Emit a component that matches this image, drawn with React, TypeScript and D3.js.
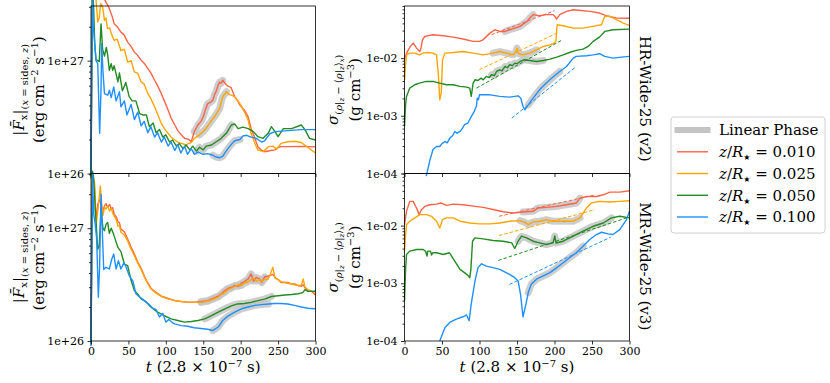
import React, { useEffect, useRef } from 'react';
import * as d3 from 'd3';

type Pt = [number, number];

// time axis in units of 2.8e-7 s
const xTicks = [0, 50, 100, 150, 200, 250, 300];

const seriesNames = ['0.010', '0.025', '0.050', '0.100'];
const seriesColors = ['#ff6347', '#ffa500', '#228b22', '#1e90ff'];
const rowLabels = ['HR-Wide-25 (v2)', 'MR-Wide-25 (v3)'];

// |F_x| in units of 1e26 erg cm^-2 s^-1
const fluxTicks = [1, 10];
const fluxTickLabels = ['1e+26', '1e+27'];
const fluxMinor = [2, 3, 4, 5, 6, 7, 8, 9, 20, 30];

// sigma in units of 1e-3 g cm^-3
const sigTicks = [0.1, 1, 10];
const sigTickLabels = ['1e-04', '1e-03', '1e-02'];
const sigMinor = [0.2, 0.3, 0.4, 0.5, 0.6, 0.7, 0.8, 0.9, 2, 3, 4, 5, 6, 7, 8, 9, 20, 30, 40, 50, 60, 70, 80];

// ---- HR-Wide-25 (v2), flux ----
const fluxHR010: Pt[] = [[0, 0.95], [1.5, 50], [8, 45], [15, 38], [20, 33], [24, 29.5], [28, 25], [31, 21.2], [35, 20], [40, 17.9], [44, 17], [49, 14.6], [53, 13.5], [58, 11.9], [62, 11.2], [67, 10.1], [71, 9.5], [76, 8.5], [80, 7.8], [85, 6.7], [89, 6.0], [94, 5.1], [98, 4.4], [103, 3.65], [107, 3.1], [112, 2.69], [116, 2.4], [121, 2.19], [125, 2.05], [130, 2.01], [134, 1.91], [138, 2.35], [141, 2.55], [143, 2.69], [147, 2.9], [150, 3.18], [153, 3.7], [156, 4.17], [160, 4.3], [163, 4.47], [165, 5.0], [167, 5.3], [170, 6.1], [172, 6.46], [174, 6.3], [176, 6.7], [179, 6.3], [183, 5.94], [187, 5.8], [190, 5.2], [192, 4.78], [196, 4.4], [199, 4.04], [205, 3.64], [210, 3.18], [214, 2.51], [219, 2.05], [223, 1.73], [228, 1.6], [232, 1.56], [240, 1.6], [246, 1.62], [250, 1.7], [254, 1.73], [263, 1.73], [281, 1.74], [300, 1.72]];
const fluxHR025: Pt[] = [[0, 0.95], [1.5, 45], [6, 40], [9, 22], [11, 24], [13, 32], [15.6, 29.8], [18, 22.7], [20, 24], [22, 19.2], [25, 19.5], [27, 17.5], [31, 15.1], [35, 15.5], [40, 12.3], [44.6, 12.6], [49, 9.7], [53.6, 10.0], [58, 7.94], [62.5, 7.7], [67, 6.48], [71, 6.2], [76, 5.1], [80, 4.6], [85, 3.9], [89, 3.35], [94, 2.78], [98, 2.5], [103, 2.27], [107, 2.1], [112, 1.98], [116, 1.9], [121, 1.85], [124, 1.82], [127, 1.79], [130, 1.84], [134, 1.88], [138, 2.05], [145, 2.2], [152, 2.43], [158.5, 2.78], [162, 3.0], [165, 3.18], [169, 3.5], [172, 3.77], [174, 4.3], [176, 4.78], [181, 5.3], [185, 5.0], [188, 4.95], [192, 4.78], [199, 4.17], [205, 3.52], [210, 2.97], [214, 2.27], [219, 1.85], [223, 1.62], [230, 1.56], [237, 1.73], [243, 1.75], [248, 1.65], [254, 1.85], [263, 1.91], [272, 1.93], [281, 1.88], [290, 1.7], [300, 1.52]];
const fluxHR050: Pt[] = [[0, 0.93], [2, 45], [3.5, 30], [5, 14], [6.7, 10.2], [9, 10], [11, 9.8], [13.4, 21.2], [15.6, 12.5], [18, 11], [20.5, 13.1], [22.3, 11.2], [24.5, 8.2], [27, 9.4], [29, 8.2], [31, 9.0], [36, 6.48], [38, 7.8], [42, 5.4], [46.5, 6.4], [51, 4.8], [55, 4.4], [60, 4.4], [65, 3.4], [69, 3.3], [74, 3.3], [78, 2.6], [83, 2.8], [87, 2.3], [91.5, 2.45], [96, 2.1], [100, 2.2], [105, 1.9], [109, 1.98], [114, 1.76], [118, 1.84], [123, 1.66], [127, 1.79], [132, 1.62], [136, 1.75], [141, 1.58], [145, 1.71], [150, 1.62], [154, 1.75], [161, 1.79], [168, 1.92], [174, 2.05], [181, 2.28], [187.5, 2.69], [192, 2.75], [196.5, 2.5], [203, 2.58], [210, 2.5], [217, 2.35], [223, 2.12], [230, 2.05], [237, 2.28], [241, 2.6], [246, 2.35], [250, 2.12], [257, 2.5], [268, 2.5], [281, 2.69], [286, 2.45], [292, 2.05], [300, 1.98]];
const fluxHR100: Pt[] = [[0, 0.9], [1.8, 45], [3, 20], [4.5, 15.6], [6.7, 10], [9, 9.4], [10.3, 4.6], [11.6, 2.27], [13.4, 5.6], [14.3, 14.1], [16, 8.0], [18, 5.1], [22.3, 4.94], [24.6, 5.47], [27, 4.7], [30.4, 5.86], [33.5, 4.4], [38, 5.3], [40, 3.9], [44.6, 4.4], [48, 3.3], [53.6, 4.1], [58, 3.0], [62.5, 3.5], [67, 2.65], [71, 2.9], [76, 2.3], [80, 2.6], [85, 2.1], [89, 2.3], [94, 1.9], [98, 2.1], [103, 1.75], [107, 1.9], [112, 1.6], [116, 1.8], [120, 1.52], [125, 1.74], [129, 1.48], [134, 1.66], [138, 1.48], [143, 1.55], [150, 1.48], [156, 1.5], [163, 1.45], [167, 1.4], [172, 1.38], [176, 1.42], [179, 1.52], [183, 1.66], [188, 1.83], [192, 1.95], [199, 2.0], [203, 2.15], [208, 2.18], [214, 2.1], [221, 2.05], [228, 1.9], [232, 1.95], [239, 2.25], [246, 2.35], [263, 2.4], [281, 2.45], [300, 2.45]];
const linHRflux: Pt[] = [[137, 178], [145, 181], [140, 190], [163, 202]];

// ---- MR-Wide-25 (v3), flux ----
const fluxMR010: Pt[] = [[0, 0.95], [1.5, 25], [4.5, 26], [6.7, 11.6], [9, 16.3], [12, 18], [15, 14], [18, 15.7], [20, 16.5], [22.3, 15.3], [25, 16.2], [27, 14.8], [29, 15.2], [31, 13.3], [34, 12.5], [36, 11.4], [38, 11.2], [40, 9.8], [44.6, 9.3], [49, 8.0], [53.6, 6.8], [58, 5.9], [62.5, 5.0], [67, 4.4], [71.4, 3.75], [76, 3.25], [80, 2.95], [85, 2.75], [94, 2.5], [103, 2.38], [112, 2.28], [120.5, 2.24], [129, 2.21], [138, 2.21], [147, 2.23], [156, 2.28], [165, 2.42], [170, 2.5], [174, 2.6], [179, 2.8], [183, 2.92], [188, 3.0], [192, 3.1], [197, 3.05], [201, 3.25], [206, 3.4], [210, 3.55], [214, 3.93], [217, 3.4], [221, 3.65], [225, 3.55], [228, 3.3], [232, 3.7], [236, 3.75], [239, 3.8], [243, 3.9], [247, 3.6], [250, 3.5], [254, 3.3], [259, 3.3], [263, 3.31], [268, 3.2], [272, 3.2], [277, 3.1], [281, 3.05], [283.5, 3.15], [286, 2.95], [290, 2.8], [295, 2.75], [300, 2.55]];
const fluxMR025: Pt[] = [[0, 0.95], [1.5, 30], [4.5, 26], [6.7, 10.5], [9, 14], [12.5, 23.6], [14, 17], [16, 13], [18, 15.3], [20, 14.8], [22.3, 15.6], [25, 14.2], [27, 15], [29, 13.6], [31, 12.8], [34, 11.8], [36, 10.4], [38, 10.6], [40, 9.2], [44.6, 8.7], [49, 7.7], [53.6, 6.5], [58, 5.7], [62.5, 4.9], [67, 4.3], [71.4, 3.67], [76, 3.2], [80, 2.9], [85, 2.71], [94, 2.48], [103, 2.36], [112, 2.28], [120.5, 2.24], [129, 2.21], [138, 2.2], [147, 2.2], [156, 2.25], [165, 2.38], [170, 2.45], [174, 2.58], [179, 2.7], [183, 2.85], [188, 2.95], [192, 3.05], [197, 3.15], [201, 3.1], [206, 3.3], [210, 3.35], [214, 3.5], [217, 3.6], [221, 3.4], [225, 3.5], [228, 3.35], [232, 3.55], [236, 3.5], [239, 3.8], [243, 4.5], [246, 3.6], [250, 3.5], [254, 3.35], [259, 3.3], [263, 3.25], [268, 3.2], [272, 3.15], [277, 3.1], [281, 3.1], [283.5, 3.55], [286, 3.0], [290, 2.85], [295, 2.75], [300, 2.72]];
const fluxMR050: Pt[] = [[0, 0.93], [2, 32], [3.5, 28], [6, 14], [9, 6.5], [11, 7.0], [13.4, 14.5], [16, 10], [18, 9.5], [20, 10.8], [22.3, 11.2], [24.5, 9.0], [27, 10.0], [29, 9.3], [31, 8.5], [36, 6.75], [40, 6.2], [44.6, 4.81], [49, 4.65], [53.6, 3.43], [58, 2.8], [62.5, 2.6], [67, 2.36], [73.7, 2.22], [80, 2.0], [89, 1.8], [98, 1.68], [107, 1.57], [116, 1.52], [125, 1.47], [134, 1.49], [143, 1.52], [152, 1.57], [161, 1.68], [170, 1.8], [179, 1.93], [187.5, 2.05], [196, 2.13], [205, 2.15], [214, 2.2], [223, 2.28], [232, 2.35], [241, 2.48], [250, 2.52], [259, 2.56], [268, 2.58], [277, 2.62], [283, 2.68], [286, 2.85], [290, 2.75], [300, 2.76]];
const fluxMR100: Pt[] = [[0, 0.9], [2, 30], [3.6, 13.3], [5.5, 11], [7.6, 8.0], [9.8, 2.44], [11.5, 4.5], [13.4, 20], [15, 10], [17, 4.3], [20, 4.5], [24.5, 4.35], [27.7, 5.3], [30.4, 5.9], [33.5, 4.35], [36.6, 5.15], [40, 4.35], [44, 4.95], [47, 4.5], [51, 3.8], [56, 3.4], [60, 2.62], [65, 2.45], [69, 2.35], [74, 2.2], [78, 2.1], [82.6, 1.95], [87, 1.9], [91.5, 1.63], [96, 1.75], [100, 1.47], [104, 1.55], [109, 1.45], [112, 1.42], [120.5, 1.37], [129, 1.35], [138, 1.31], [147, 1.29], [156, 1.27], [163, 1.24], [170, 1.33], [176, 1.52], [183, 1.66], [192, 1.8], [201, 1.93], [210, 2.0], [219, 2.07], [228, 2.1], [237, 2.13], [245, 2.15], [254, 2.15], [263, 2.13], [272, 2.07], [281, 2.0], [290, 1.95], [300, 1.93]];
const linMRflux: Pt[] = [[147, 235], [147, 235], [147, 245], [163, 240]];

// ---- HR-Wide-25 (v2), sigma ----
const sigHR010: Pt[] = [[0, 9.5], [2, 11.5], [5, 13.9], [8, 16], [11.6, 18.2], [14, 16.5], [16, 14.9], [20.4, 13.0], [22, 15], [24, 20.8], [27, 23.7], [32, 24.5], [38, 25.4], [51.5, 24.4], [65, 23.1], [78, 21.4], [91.5, 19.5], [100, 19.5], [104, 20.5], [107, 22.2], [114, 27.1], [120.5, 31], [127, 29], [134, 29], [140, 31], [147, 33.1], [154, 35.4], [160, 40.5], [164, 44], [167, 49.4], [171.5, 56.6], [180, 54.3], [189, 56.6], [198, 56.6], [201, 52], [202.7, 47.5], [205, 52], [207, 56.6], [216, 64.5], [225, 68.8], [236, 67], [247, 64.5], [260, 60.4], [269, 54.3], [275, 52], [283, 49.4], [300, 49]];
const sigHR025: Pt[] = [[0, 4.2], [1.5, 8], [2.7, 11.4], [7, 12.2], [13.8, 12.2], [20, 11.4], [25, 12.2], [31.5, 12.5], [38, 12.2], [42.7, 11.4], [45, 5.5], [47, 1.89], [49, 2.47], [50.7, 9.36], [54, 12.2], [65, 12.5], [78, 13.0], [91.5, 12.2], [105, 11.4], [118, 12.2], [127, 13.0], [136, 12.2], [145, 11.4], [148, 12.5], [150, 14.9], [152, 12.0], [158, 11.4], [167, 12.2], [176, 13.9], [185, 15.9], [194, 17.0], [200, 18.2], [202, 20], [203.5, 37.9], [211, 36.4], [225, 33.1], [238, 33.1], [251, 35.4], [262.7, 37.9], [267, 52.9], [274, 52.9], [283, 46.2], [292, 40.5], [300, 36.4]];
const sigHR050: Pt[] = [[0, 0.65], [1.5, 1.6], [2.7, 2.17], [7, 3.02], [13.8, 3.45], [20, 3.69], [29, 3.94], [38, 3.94], [47, 3.69], [56, 3.45], [65, 3.45], [74, 3.23], [83, 3.14], [87, 3.02], [89, 2.17], [91.5, 3.69], [94, 4.21], [98, 4.1], [102, 4.5], [105, 4.2], [109, 4.81], [113, 4.6], [116, 5.14], [120, 5.0], [122.7, 5.87], [127, 6.27], [130, 6.0], [134, 7.17], [137, 6.8], [140.4, 7.66], [144, 7.4], [147, 8.19], [150, 8.0], [154, 8.75], [160, 9.36], [167, 9.1], [176, 8.75], [185, 9.1], [194, 9.6], [203, 10.4], [211.5, 11.4], [220, 12.5], [229, 13.6], [238, 14.3], [245, 15.9], [251.5, 19.5], [260, 23.1], [267, 29], [278, 31], [300, 31.8]];
const sigHR100: Pt[] = [[29, 0.09], [34, 0.172], [38, 0.26], [42.7, 0.294], [47, 0.294], [50, 0.33], [54, 0.359], [57, 0.34], [60.4, 0.41], [64, 0.45], [67, 0.535], [70, 0.5], [74, 0.535], [77, 0.6], [80, 0.7], [84.5, 0.75], [89, 0.97], [93, 1.19], [96, 1.5], [97, 2.02], [98.5, 1.9], [100, 2.31], [105, 2.31], [114, 2.31], [127, 2.17], [140, 2.11], [151.5, 2.22], [155, 2.02], [158, 1.45], [160.5, 1.27], [165, 1.55], [171.5, 2.02], [180, 2.82], [189, 3.69], [198, 4.69], [207, 5.87], [216, 7.17], [225, 10], [229, 10.7], [242.7, 10.98], [251.5, 11.4], [260, 11.9], [267, 10.7], [278, 10], [289, 10.4], [300, 10.7]];
const linHRsig: Pt[] = [[131, 176], [118, 181], [116, 185], [163, 207]];
// fitted growth: [t0, t1] and [v0, v1]
const fitHRt: Pt[] = [[116, 200], [100, 203.5], [96, 209], [143, 229]];
const fitHRv: Pt[] = [[25.4, 66.2], [6.31, 27.2], [3.02, 20.2], [0.912, 7.16]];

// ---- MR-Wide-25 (v3), sigma ----
const sigMR010: Pt[] = [[0, 10.4], [1.5, 14], [2.7, 17.7], [7, 26.3], [11.6, 26.3], [16, 20.2], [19.5, 15.5], [22.7, 18.9], [27, 21.5], [33.8, 23.0], [42.7, 23.6], [49, 24.6], [56, 22.4], [65, 23.6], [78, 23.0], [91.5, 21.8], [105, 20.7], [118, 19.0], [131.5, 17.4], [145, 16.5], [158, 17.2], [171.5, 17.7], [178, 20.2], [189, 20.7], [203, 21.5], [216, 23.0], [229, 24.6], [234, 30], [242.7, 32.0], [256, 32.0], [265, 34.2], [274, 38], [287, 38], [300, 40.1]];
const sigMR025: Pt[] = [[0, 3.6], [1.5, 7], [2.7, 10.4], [7, 11.9], [13.8, 13.6], [20.4, 15.5], [29, 15.5], [36, 14.5], [42.7, 11.9], [47, 9.1], [50.7, 12.7], [56, 13.6], [65, 13.6], [74, 11.9], [87, 11.1], [100, 10.7], [114, 10.7], [127, 11.1], [140.4, 11.9], [154, 12.2], [160, 11.5], [165, 10.4], [171.5, 11.6], [180, 11.9], [189, 12.7], [198, 11.9], [205, 11.9], [211.5, 11.9], [225, 11.9], [234, 13.6], [242.7, 20.2], [249, 24.6], [260, 26.3], [274, 25.6], [287, 26.3], [300, 27.0]];
const sigMR050: Pt[] = [[0, 0.5], [1.5, 1.8], [2.7, 3.16], [7, 3.61], [16, 3.86], [25, 3.86], [28, 3.6], [30, 2.96], [31, 3.61], [34.7, 3.61], [36, 3.1], [38, 3.4], [42.7, 3.38], [51.6, 3.16], [60, 3.38], [67, 2.42], [74, 1.74], [80, 1.53], [85, 1.35], [87, 1.25], [88.5, 1.74], [90.7, 5.36], [93.8, 6.13], [105, 5.89], [118, 5.51], [131.5, 5.36], [143, 5.02], [147, 4.01], [151.5, 5.36], [156, 6.55], [162.7, 6.13], [171.5, 5.36], [180, 5.02], [189, 4.7], [198, 5.02], [200.4, 6.6], [202, 5.0], [211.5, 5.36], [225, 6.55], [238, 8.0], [251.5, 9.74], [265, 11.1], [276, 13.6], [287, 14.5], [300, 13.6]];
const sigMR100: Pt[] = [[47, 0.1], [54, 0.172], [60.4, 0.21], [69, 0.24], [78, 0.263], [82.7, 0.283], [86.2, 0.225], [89, 0.44], [94, 1.1], [98, 1.87], [102.7, 2.18], [109, 1.99], [118, 1.87], [127, 1.74], [140, 1.43], [147, 1.25], [151.5, 1.1], [154.7, 0.645], [158, 0.263], [162, 0.44], [165, 0.69], [169, 0.96], [176, 1.18], [185, 1.34], [194, 1.53], [203, 1.87], [211.5, 2.27], [220, 2.77], [229, 3.38], [238, 4.4], [247, 5.73], [256, 7.0], [262.7, 7.67], [271.6, 7.18], [278, 7.0], [287, 8.53], [296, 12.7], [300, 17.7]];
const linMRsig: Pt[] = [[147, 234], [147, 234], [151, 278], [163, 243]];
const fitMRt: Pt[] = [[126, 255], [126, 254], [125, 296], [140, 275]];
const fitMRv: Pt[] = [[14.5, 34.2], [6.73, 18.9], [2.49, 13.6], [0.955, 6.31]];

const colX = [[91, 315.5], [404.5, 629.5]];
const rowY = [[6, 173.5], [173.5, 341]];

const panels = [
  { col: 0, row: 0, domain: [1, 30.5], series: [fluxHR010, fluxHR025, fluxHR050, fluxHR100], lin: linHRflux, fitT: null, fitV: null },
  { col: 1, row: 0, domain: [0.1, 80], series: [sigHR010, sigHR025, sigHR050, sigHR100], lin: linHRsig, fitT: fitHRt, fitV: fitHRv },
  { col: 0, row: 1, domain: [1, 30.5], series: [fluxMR010, fluxMR025, fluxMR050, fluxMR100], lin: linMRflux, fitT: null, fitV: null },
  { col: 1, row: 1, domain: [0.1, 80], series: [sigMR010, sigMR025, sigMR050, sigMR100], lin: linMRsig, fitT: fitMRt, fitV: fitMRv },
];

const FONT = 'DejaVu Serif';

function Chart() {
  const ref = useRef<SVGGElement>(null);

  useEffect(() => {
    const root = d3.select(ref.current);
    root.selectAll('*').remove();

    panels.forEach(p => {
      const [x0, x1] = colX[p.col];
      const [y0, y1] = rowY[p.row];
      const x = d3.scaleLinear().domain([0, 300]).range([x0, x1]);
      const y = d3.scaleLog().domain(p.domain).range([y1, y0]);
      const g = root.append('g');
      const line = d3.line<Pt>().x(d => x(d[0])).y(d => y(d[1]));

      // linear phase highlight
      p.series.forEach((s, i) => {
        const [a, b] = p.lin[i];
        g.append('path')
          .attr('d', line(s.filter(d => d[0] >= a && d[0] <= b)))
          .attr('fill', 'none')
          .attr('stroke', '#c4c4c4')
          .attr('stroke-opacity', 0.85)
          .attr('stroke-width', 7)
          .attr('stroke-linejoin', 'round')
          .attr('stroke-linecap', 'round');
      });

      p.series.forEach((s, i) => {
        g.append('path')
          .attr('d', line(s))
          .attr('fill', 'none')
          .attr('stroke', seriesColors[i])
          .attr('stroke-width', 1.4)
          .attr('stroke-linejoin', 'round');
      });

      if (p.fitT && p.fitV) {
        p.fitT.forEach((tt, i) => {
          const vv = p.fitV![i];
          g.append('path')
            .attr('d', line([[tt[0], vv[0]], [tt[1], vv[1]]]))
            .attr('fill', 'none')
            .attr('stroke', seriesColors[i])
            .attr('stroke-width', 1)
            .attr('stroke-dasharray', '3.5,2');
        });
      }

      // spines
      g.append('rect')
        .attr('x', x0).attr('y', y0)
        .attr('width', x1 - x0).attr('height', y1 - y0)
        .attr('fill', 'none').attr('stroke', '#000').attr('stroke-width', 0.8);

      const isFlux = p.col === 0;
      const yT = isFlux ? fluxTicks : sigTicks;
      const yL = isFlux ? fluxTickLabels : sigTickLabels;
      const yM = isFlux ? fluxMinor : sigMinor;

      g.append('g').attr('transform', `translate(${x0},0)`)
        .call(d3.axisLeft(y).tickValues(yT).tickFormat((d, i) => yL[i]).tickSize(3.5).tickPadding(3.5).tickSizeOuter(0));
      g.append('g').attr('transform', `translate(${x0},0)`)
        .call(d3.axisLeft(y).tickValues(yM).tickFormat(() => '').tickSize(2).tickSizeOuter(0));

      g.append('g').attr('transform', `translate(0,${y1})`)
        .call(d3.axisBottom(x).tickValues(xTicks).tickSize(3.5).tickPadding(3).tickSizeOuter(0)
          .tickFormat(p.row === 1 ? (d => String(d)) : () => ''));

      g.selectAll('.domain').remove();
      g.selectAll('.tick line').attr('stroke', '#000').attr('stroke-width', 0.8);
      g.selectAll('.tick text').attr('fill', '#000').attr('font-family', FONT).attr('font-size', 11);
    });
  }, []);

  return <g ref={ref}></g>;
}

const sub = 10;
const sub2 = 7;

export default function App() {
  const cy = rowY.map(r => (r[0] + r[1]) / 2);
  const legendY = [130, 151.8, 173.5, 195.3, 217];
  return (
    <svg width={830} height={383} style={{ position: 'absolute', left: 0, top: 0, background: '#fff' }} fontFamily={FONT}>
      <rect x={0} y={0} width={830} height={383} fill="#fff" />
      <Chart />

      {/* y labels, left column */}
      {cy.map((c, k) => (
        <g key={'fl' + k}>
          <text transform={`translate(24,${c}) rotate(-90)`} textAnchor="middle" fontSize={15} fill="#000">
            |<tspan fontStyle="italic">{'F\u0304'}</tspan><tspan fontSize={sub} dy={3}>x</tspan><tspan dy={-3}>|</tspan><tspan fontSize={sub} dy={3.5}>(</tspan><tspan fontSize={sub} fontStyle="italic">x</tspan><tspan fontSize={sub}>{' = sides, '}</tspan><tspan fontSize={sub} fontStyle="italic">z</tspan><tspan fontSize={sub}>)</tspan>
          </text>
          <text transform={`translate(44,${c}) rotate(-90)`} textAnchor="middle" fontSize={15} fill="#000">
            {'(erg cm'}<tspan fontSize={sub} dy={-6}>{'\u22122'}</tspan><tspan dy={6}>{' s'}</tspan><tspan fontSize={sub} dy={-6}>{'\u22121'}</tspan><tspan dy={6}>)</tspan>
          </text>
        </g>
      ))}

      {/* y labels, right column */}
      {cy.map((c, k) => (
        <g key={'sl' + k}>
          <text transform={`translate(338,${c}) rotate(-90)`} textAnchor="middle" fontSize={15} fill="#000">
            <tspan fontStyle="italic">{'\u03c3'}</tspan><tspan fontSize={sub} dy={3.5}>(</tspan><tspan fontSize={sub} fontStyle="italic">{'\u03c1'}</tspan><tspan fontSize={sub}>|</tspan><tspan fontSize={sub2} fontStyle="italic" dy={2}>z</tspan><tspan fontSize={sub} dy={-2}>{' \u2212 \u27e8'}</tspan><tspan fontSize={sub} fontStyle="italic">{'\u03c1'}</tspan><tspan fontSize={sub}>|</tspan><tspan fontSize={sub2} fontStyle="italic" dy={2}>z</tspan><tspan fontSize={sub} dy={-2}>{'\u27e9'}</tspan><tspan fontSize={sub2} fontStyle="italic" dy={2}>x</tspan><tspan fontSize={sub} dy={-2}>)</tspan>
          </text>
          <text transform={`translate(360,${c}) rotate(-90)`} textAnchor="middle" fontSize={15} fill="#000">
            {'(g cm'}<tspan fontSize={sub} dy={-6}>{'\u22123'}</tspan><tspan dy={6}>)</tspan>
          </text>
        </g>
      ))}

      {/* x labels */}
      {colX.map((c, k) => (
        <text key={'xl' + k} x={(c[0] + c[1]) / 2} y={372} textAnchor="middle" fontSize={15} fill="#000">
          <tspan fontStyle="italic">t</tspan>{' (2.8 \u00d7 10'}<tspan fontSize={sub} dy={-5}>{'\u22127'}</tspan><tspan dy={5}>{' s)'}</tspan>
        </text>
      ))}

      {/* row labels */}
      {rowLabels.map((r, k) => (
        <text key={'rl' + k} transform={`translate(640,${cy[k] + 9}) rotate(90)`} textAnchor="middle" fontSize={15} fill="#000">{r}</text>
      ))}

      {/* legend */}
      <rect x={671} y={117} width={154} height={116} rx={3} fill="#fff" fillOpacity={0.8} stroke="#d0d0d0" strokeWidth={1} />
      <line x1={677.5} x2={707.5} y1={legendY[0]} y2={legendY[0]} stroke="#c4c4c4" strokeWidth={6} strokeLinecap="square" />
      <text x={719} y={legendY[0]} dy="0.35em" fontSize={15} fill="#000">Linear Phase</text>
      {seriesNames.map((s, i) => (
        <g key={'lg' + i}>
          <line x1={677} x2={708} y1={legendY[i + 1]} y2={legendY[i + 1]} stroke={seriesColors[i]} strokeWidth={1.4} />
          <text x={719} y={legendY[i + 1]} dy="0.35em" fontSize={15} fill="#000">
            <tspan fontStyle="italic">z</tspan>/<tspan fontStyle="italic">R</tspan><tspan fontSize={8} dy={3} fontFamily="DejaVu Sans">{'\u2605'}</tspan><tspan dy={-3}>{' = ' + s}</tspan>
          </text>
        </g>
      ))}
    </svg>
  );
}
